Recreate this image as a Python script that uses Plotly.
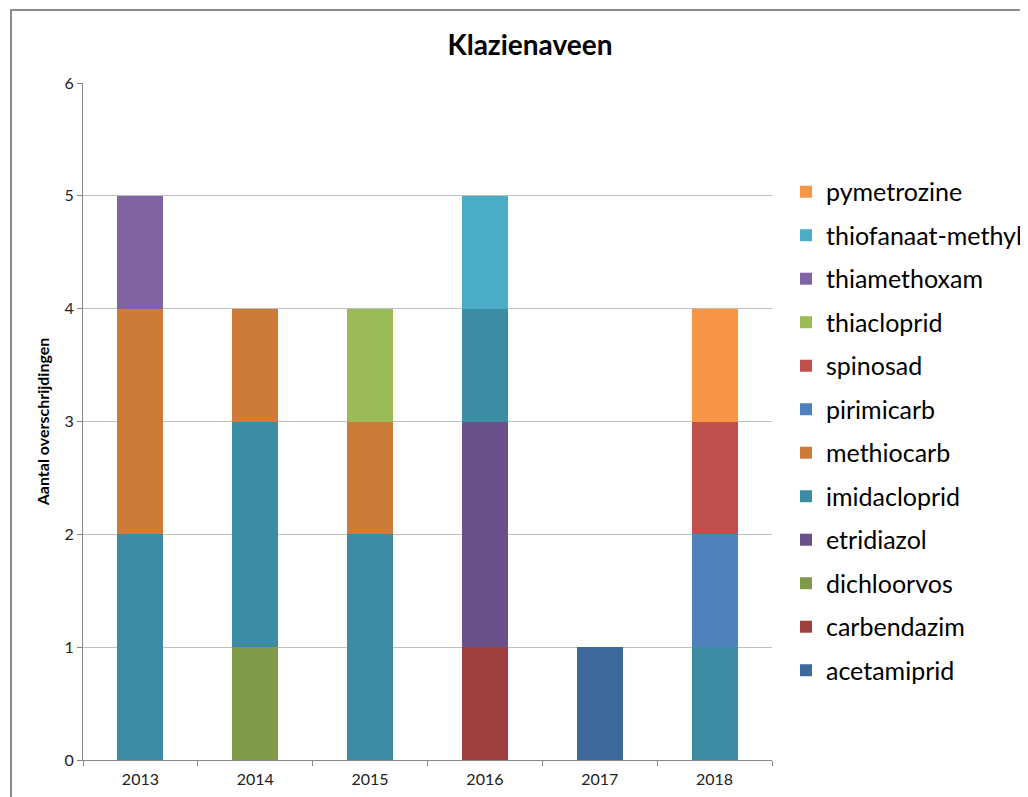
import plotly.graph_objects as go

years = ["2013", "2014", "2015", "2016", "2017", "2018"]

acetamiprid = [0, 0, 0, 0, 1, 0]
carbendazim = [0, 0, 0, 1, 0, 0]
dichloorvos = [0, 1, 0, 0, 0, 0]
etridiazol = [0, 0, 0, 2, 0, 0]
imidacloprid = [2, 2, 2, 1, 0, 1]
methiocarb = [2, 1, 1, 0, 0, 0]
pirimicarb = [0, 0, 0, 0, 0, 1]
spinosad = [0, 0, 0, 0, 0, 1]
thiacloprid = [0, 0, 1, 0, 0, 0]
thiamethoxam = [1, 0, 0, 0, 0, 0]
thiofanaat_methyl = [0, 0, 0, 1, 0, 0]
pymetrozine = [0, 0, 0, 0, 0, 1]

series = [
    ("acetamiprid", acetamiprid, "#3E6A9B"),
    ("carbendazim", carbendazim, "#9E413E"),
    ("dichloorvos", dichloorvos, "#7F9A48"),
    ("etridiazol", etridiazol, "#6A5088"),
    ("imidacloprid", imidacloprid, "#3C8CA3"),
    ("methiocarb", methiocarb, "#CC7B38"),
    ("pirimicarb", pirimicarb, "#4F81BD"),
    ("spinosad", spinosad, "#C0504D"),
    ("thiacloprid", thiacloprid, "#9BBB59"),
    ("thiamethoxam", thiamethoxam, "#8064A2"),
    ("thiofanaat-methyl", thiofanaat_methyl, "#4BACC6"),
    ("pymetrozine", pymetrozine, "#F79646"),
]

fig = go.Figure()
for i, (name, vals, col) in enumerate(series):
    fig.add_trace(go.Bar(
        x=years, y=vals, name=name, legendgroup=name, legendrank=1000 - i,
        marker=dict(color=col, line=dict(width=0)),
    ))

FONT = "Lato, Carlito, Calibri, sans-serif"
W, H = 1020, 789  # page body has an 8px margin

fig.update_layout(
    width=W, height=H,
    barmode="stack", bargap=0.6,
    paper_bgcolor="white", plot_bgcolor="white",
    margin=dict(l=75, r=256, t=75, b=37, autoexpand=False),
    font=dict(family=FONT, color="#000000"),
    title=dict(text="<b>Klazienaveen</b>", x=522 / W, xanchor="center",
               y=1 - 37 / H, yanchor="middle", xref="container", yref="container",
               font=dict(size=28, family=FONT, color="#000000")),
    legend=dict(traceorder="grouped", tracegroupgap=8,
                x=1.0203, xanchor="left", y=0.873, yanchor="top",
                font=dict(size=25, family=FONT, color="#000000"),
                bgcolor="rgba(0,0,0,0)", itemwidth=30),
    xaxis=dict(type="category", showline=True, linecolor="#868686", linewidth=1,
               ticks="outside", tickson="boundaries", ticklen=5, tickcolor="#868686",
               ticklabelstandoff=5,
               tickfont=dict(size=16, family=FONT, color="#222222"),
               showgrid=False, zeroline=False),
    yaxis=dict(range=[0, 6], dtick=1, showline=True, linecolor="#868686", linewidth=1,
               ticks="outside", ticklen=5, tickcolor="#868686",
               showgrid=True, gridcolor="#BFBFBF", gridwidth=1, zeroline=False,
               tickfont=dict(size=16, family=FONT, color="#222222"),
               title=dict(text="<b>Aantal overschrijdingen</b>", standoff=10,
                          font=dict(size=16, family=FONT, color="#000000"))),
    shapes=[dict(type="rect", xref="paper", yref="paper",
                 x0=(11 - 83) / 689, x1=2.0, y0=-0.5, y1=(760 - 10) / 677,
                 line=dict(color="#8C8C8C", width=2), fillcolor="rgba(0,0,0,0)",
                 layer="below")],
)

fig.write_html("out.html")
